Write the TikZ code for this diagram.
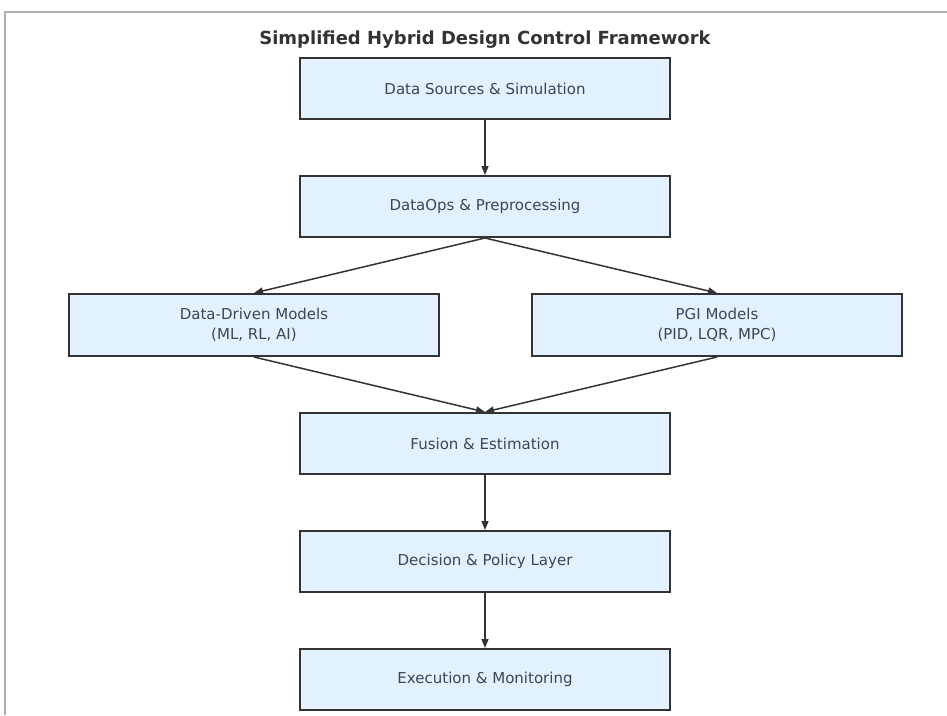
\documentclass[tikz,border=0pt]{standalone}
\usepackage{fontspec}
\setmainfont{DejaVu Sans}
\usepackage{tikz}
\usetikzlibrary{arrows.meta, positioning}
\definecolor{boxfill}{RGB}{227,240,253}
\definecolor{boxline}{RGB}{51,51,51}
\definecolor{boxtext}{RGB}{60,70,85}
\definecolor{framegray}{RGB}{175,175,175}

\begin{document}
\begin{tikzpicture}[
    x=1pt, y=-1pt,
    font=\fontsize{15}{20}\selectfont,
    node distance=55pt,
    box/.style={draw=boxline, line width=2pt, fill=boxfill, minimum width=370pt, minimum height=61pt, align=center, text=boxtext, inner sep=0pt},
    arrow/.style={-{Triangle[length=9pt, width=7pt]}, line width=1.5pt, boxline}
]
\useasboundingbox (0,0) rectangle (947,715);

% Frame
\draw[framegray, line width=1.5pt] (5,715) -- (5,12) -- (947,12);

% Pipeline
\node[box] (src) at (485,88.5) {Data Sources \& Simulation};
\node[font=\fontsize{18}{22}\selectfont\bfseries, text=black!80] (title) at (485,40) {Simplified Hybrid Design Control Framework};
\node[box, below=of src] (prep) {DataOps \& Preprocessing};

% Model branches
\node[box, below=of prep, xshift=-231pt, minimum height=62pt] (ddm) {Data-Driven Models\\(ML, RL, AI)};
\node[box, below=of prep, xshift=232pt, minimum height=62pt] (pgi) {PGI Models\\(PID, LQR, MPC)};

% Merge and downstream
\node[box, below=of ddm, xshift=231pt] (fusion) {Fusion \& Estimation};
\node[box, below=of fusion] (decide) {Decision \& Policy Layer};
\node[box, below=of decide] (exec) {Execution \& Monitoring};

% Arrows
\draw[arrow] (src) -- (prep);
\draw[arrow] (prep.south) -- (ddm.north);
\draw[arrow] (prep.south) -- (pgi.north);
\draw[arrow] (ddm.south) -- (fusion.north);
\draw[arrow] (pgi.south) -- (fusion.north);
\draw[arrow] (fusion) -- (decide);
\draw[arrow] (decide) -- (exec);

\end{tikzpicture}
\end{document}
